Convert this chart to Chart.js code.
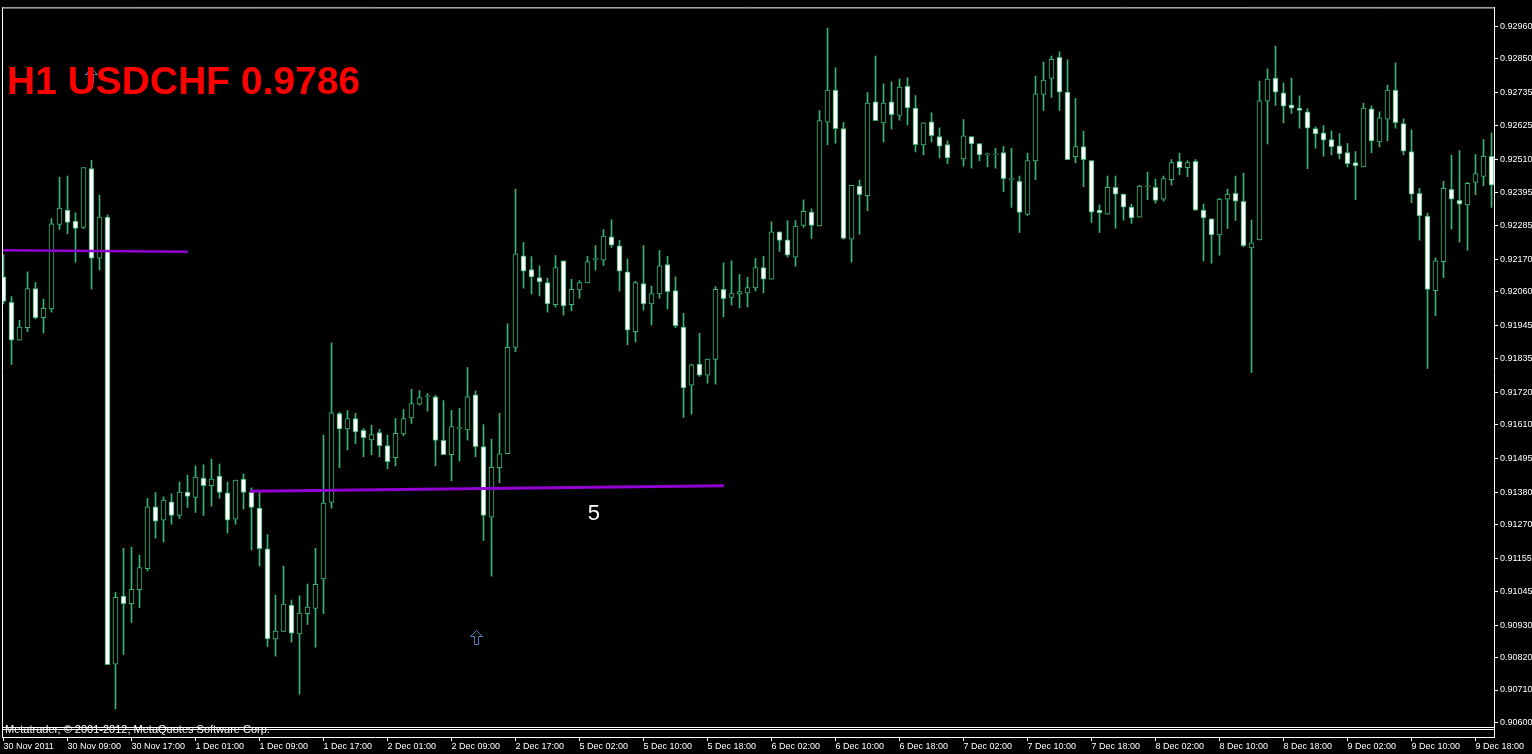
<!DOCTYPE html>
<html><head><meta charset="utf-8">
<script src="https://cdn.jsdelivr.net/npm/chart.js@4.4.1/dist/chart.umd.min.js"></script>
<style>html,body{margin:0;padding:0;background:#000;overflow:hidden}#wrap{width:1532px;height:754px;position:relative}</style>
</head><body><div id="wrap"><canvas id="c" width="1532" height="754"></canvas></div>
<script>
// ---- DATA (H1 USDCHF, bar index 0..186) ----
const opens = [
0.92111,0.92024,0.91896,0.91938,0.92071,0.91972,0.92002,0.92288,0.92337,0.92300,
0.92278,0.92478,0.92174,0.92313,0.90798,0.91028,0.91003,0.91050,0.91121,0.91331,
0.91286,0.91348,0.91302,0.91381,0.91363,0.91428,0.91403,0.91435,0.91378,0.91289,
0.91425,0.91381,0.91327,0.91189,0.90883,0.90909,0.90998,0.90900,0.90969,0.90987,
0.91087,0.91346,0.91647,0.91595,0.91630,0.91590,0.91558,0.91583,0.91539,0.91498,
0.91578,0.91632,0.91679,0.91704,0.91704,0.91556,0.91508,0.91597,0.91592,0.91711,
0.91535,0.91296,0.91464,0.91511,0.91871,0.92182,0.92135,0.92108,0.92091,0.92016,
0.92165,0.92016,0.92066,0.92090,0.92169,0.92167,0.92246,0.92216,0.92128,0.91925,
0.92088,0.92019,0.92053,0.92152,0.92064,0.91940,0.91743,0.91815,0.91777,0.91831,
0.92068,0.92041,0.92053,0.92056,0.92073,0.92142,0.92103,0.92263,0.92236,0.92177,
0.92285,0.92330,0.92283,0.92635,0.92744,0.92613,0.92238,0.92418,0.92386,0.92704,
0.92632,0.92704,0.92658,0.92757,0.92683,0.92558,0.92636,0.92586,0.92559,null,
0.92510,0.92586,0.92562,0.92524,0.92524,0.92532,0.92440,0.92434,0.92322,0.92504,
0.92729,0.92783,0.92855,0.92737,0.92518,0.92552,0.92505,0.92337,0.92323,0.92414,
0.92391,0.92347,0.92313,0.92416,0.92414,0.92374,0.92440,0.92502,0.92481,0.92502,
0.92337,0.92307,0.92253,0.92374,0.92394,0.92367,0.92209,0.92236,0.92706,0.92784,
0.92734,0.92694,0.92683,0.92670,0.92613,0.92599,0.92576,0.92555,0.92532,0.92498,
0.92483,0.92680,0.92568,0.92645,0.92744,0.92630,0.92535,0.92394,0.92317,0.92064,
0.92162,0.92407,0.92370,0.92354,0.92431,0.92451,0.92519];
const highs = [
0.92186,0.92044,0.91963,0.92128,0.92091,0.92035,0.92308,0.92449,0.92452,0.92328,
0.92481,0.92506,0.92388,0.92321,0.91041,0.91190,0.91194,0.91167,0.91359,0.91379,
0.91365,0.91375,0.91415,0.91439,0.91470,0.91473,0.91493,0.91476,0.91415,0.91422,
0.91443,0.91395,0.91379,0.91237,0.91032,0.91130,0.91015,0.91029,0.91069,0.91190,
0.91574,0.91887,0.91651,0.91657,0.91648,0.91596,0.91608,0.91594,0.91574,0.91630,
0.91661,0.91729,0.91725,0.91715,0.91709,0.91691,0.91658,0.91665,0.91803,0.91724,
0.91610,0.91561,0.91648,0.91951,0.92408,0.92227,0.92179,0.92148,0.92106,0.92183,
0.92165,0.92102,0.92098,0.92180,0.92217,0.92271,0.92304,0.92234,0.92172,0.92095,
0.92217,0.92079,0.92200,0.92180,0.92111,0.91987,0.91815,0.91919,0.91832,0.92078,
0.92158,0.92165,0.92119,0.92109,0.92173,0.92180,0.92297,0.92263,0.92301,0.92301,
0.92372,0.92341,0.92674,0.92954,0.92819,0.92634,0.92421,0.92439,0.92735,0.92859,
0.92765,0.92772,0.92782,0.92785,0.92725,0.92633,0.92667,0.92616,0.92572,null,
0.92644,0.92586,0.92562,0.92530,0.92546,0.92553,0.92546,0.92452,0.92530,0.92791,
0.92839,0.92859,0.92873,0.92846,0.92715,0.92604,0.92505,0.92355,0.92452,0.92452,
0.92391,0.92357,0.92421,0.92466,0.92442,0.92452,0.92508,0.92530,0.92505,0.92508,
0.92357,0.92307,0.92377,0.92408,0.92452,0.92462,0.92303,0.92774,0.92816,0.92893,
0.92768,0.92784,0.92724,0.92680,0.92619,0.92623,0.92606,0.92596,0.92562,0.92535,
0.92700,0.92690,0.92670,0.92761,0.92836,0.92646,0.92609,0.92411,0.92327,0.92175,
0.92434,0.92523,0.92539,0.92431,0.92525,0.92576,0.92599];
const lows = [
0.92019,0.91814,0.91896,0.91925,0.91968,0.91920,0.91991,0.92271,0.92257,0.92160,
0.92274,0.92069,0.92134,0.90796,0.90646,0.90831,0.90939,0.90989,0.91114,0.91225,
0.91212,0.91272,0.91292,0.91329,0.91312,0.91302,0.91333,0.91360,0.91242,0.91272,
0.91323,0.91185,0.91131,0.90858,0.90825,0.90909,0.90872,0.90696,0.90932,0.90855,
0.90969,0.91326,0.91464,0.91524,0.91545,0.91500,0.91507,0.91500,0.91460,0.91470,
0.91571,0.91614,0.91676,0.91655,0.91470,0.91508,0.91419,0.91486,0.91557,0.91500,
0.91217,0.91096,0.91412,0.91511,0.91857,0.92072,0.92053,0.92046,0.91991,0.92008,
0.91981,0.91995,0.92038,0.92090,0.92133,0.92149,0.92210,0.92062,0.91880,0.91890,
0.91998,0.91947,0.92038,0.92001,0.91938,0.91634,0.91645,0.91773,0.91750,0.91747,
0.91975,0.92015,0.92005,0.92009,0.92063,0.92056,0.92103,0.92197,0.92177,0.92147,
0.92278,0.92241,0.92283,0.92558,0.92564,0.92238,0.92160,0.92255,0.92335,0.92640,
0.92568,0.92611,0.92642,0.92625,0.92534,0.92524,0.92568,0.92514,0.92494,null,
0.92486,0.92479,0.92504,0.92483,0.92479,0.92399,0.92346,0.92261,0.92319,0.92440,
0.92675,0.92719,0.92675,0.92508,0.92497,0.92416,0.92295,0.92261,0.92323,0.92276,
0.92303,0.92292,0.92313,0.92372,0.92360,0.92367,0.92421,0.92457,0.92450,0.92337,
0.92164,0.92157,0.92184,0.92275,0.92302,0.92212,0.91787,0.92236,0.92561,0.92692,
0.92632,0.92665,0.92615,0.92477,0.92547,0.92520,0.92524,0.92510,0.92483,0.92372,
0.92483,0.92531,0.92551,0.92571,0.92615,0.92524,0.92362,0.92235,0.91800,0.91979,
0.92108,0.92272,0.92228,0.92201,0.92389,0.92420,0.92346];
const closes = [
0.92027,0.91896,0.91940,0.92071,0.91972,0.92004,0.92290,0.92344,0.92295,0.92275,
0.92481,0.92174,0.92313,0.90796,0.91024,0.91003,0.91051,0.91125,0.91331,0.91282,
0.91354,0.91302,0.91381,0.91366,0.91432,0.91403,0.91425,0.91380,0.91286,0.91422,
0.91380,0.91329,0.91189,0.90883,0.90910,0.91001,0.90903,0.90971,0.90991,0.91068,
0.91344,0.91650,0.91595,0.91630,0.91585,0.91565,0.91576,0.91538,0.91484,0.91580,
0.91630,0.91681,0.91701,0.91704,0.91556,0.91508,0.91603,0.91597,0.91704,0.91535,
0.91302,0.91465,0.91511,0.91872,0.92189,0.92130,0.92110,0.92093,0.92019,0.92142,
0.92012,0.92068,0.92091,0.92162,0.92169,0.92249,0.92218,0.92130,0.91930,0.92091,
0.92019,0.92054,0.92148,0.92060,0.91945,0.91734,0.91812,0.91777,0.91832,0.92068,
0.92037,0.92054,0.92061,0.92074,0.92142,0.92103,0.92263,0.92234,0.92184,0.92283,
0.92333,0.92285,0.92640,0.92744,0.92613,0.92241,0.92421,0.92389,0.92700,0.92640,
0.92700,0.92660,0.92754,0.92683,0.92559,0.92633,0.92589,0.92554,0.92514,null,
0.92589,0.92561,0.92524,0.92524,0.92524,0.92443,0.92440,0.92329,0.92505,0.92731,
0.92778,0.92848,0.92737,0.92508,0.92552,0.92508,0.92330,0.92327,0.92414,0.92391,
0.92347,0.92310,0.92418,0.92416,0.92370,0.92444,0.92498,0.92481,0.92498,0.92337,
0.92310,0.92253,0.92374,0.92391,0.92367,0.92216,0.92226,0.92707,0.92781,0.92737,
0.92689,0.92682,0.92675,0.92615,0.92595,0.92574,0.92551,0.92527,0.92494,0.92487,
0.92683,0.92571,0.92650,0.92744,0.92633,0.92537,0.92391,0.92317,0.92068,0.92165,
0.92411,0.92374,0.92357,0.92428,0.92461,0.92519,0.92421];

const xLabelBars = [0,8,16,24,32,40,48,56,64,72,80,88,96,104,112,120,128,136,144,152,160,168,176,184];
const xLabelTexts = ['30 Nov 2011','30 Nov 09:00','30 Nov 17:00','1 Dec 01:00','1 Dec 09:00','1 Dec 17:00',
  '2 Dec 01:00','2 Dec 09:00','2 Dec 17:00','5 Dec 02:00','5 Dec 10:00','5 Dec 18:00',
  '6 Dec 02:00','6 Dec 10:00','6 Dec 18:00','7 Dec 02:00','7 Dec 10:00','7 Dec 18:00',
  '8 Dec 02:00','8 Dec 10:00','8 Dec 18:00','9 Dec 02:00','9 Dec 10:00','9 Dec 18:00'];
const yTickValues = [0.92960,0.92850,0.92735,0.92625,0.92510,0.92395,0.92285,0.92170,0.92060,0.91945,0.91835,
  0.91720,0.91610,0.91495,0.91380,0.91270,0.91155,0.91045,0.90930,0.90820,0.90710,0.90600];

const trend1Bars = [-0.19, 23.06];
const trend1Prices = [0.92201, 0.92196];
const trend2Bars = [30.81, 90.06];
const trend2Prices = [0.91384, 0.91402];
const arrowBars = [59, 10.9];
const arrowPrices = [0.90888, 0.92795];
const labelBars = [73.8];
const labelPrices = [0.91308];
const labelTexts = ['5'];
const titleText = 'H1 USDCHF 0.9786';
const footerText = 'Metatrader, \u00A9 2001-2012, MetaQuotes Software Corp.';

// ---- BUILD ----
const GREEN = '#3CB371';
const wickData = [], bodyData = [], bodyFill = [];
for (let i = 0; i < opens.length; i++) {
  if (opens[i] == null) continue;
  wickData.push({x: i, y: [lows[i], highs[i]]});
  bodyData.push({x: i, y: [opens[i], closes[i]]});
  bodyFill.push(closes[i] < opens[i] ? '#ffffff' : '#000000');
}
const labelMap = {};
xLabelBars.forEach((b, k) => labelMap[b] = xLabelTexts[k]);

const FONT = "'Liberation Sans', Arial, sans-serif";

const decor = {
  id: 'decor',
  afterDraw(chart) {
    const ctx = chart.ctx, a = chart.chartArea;
    const xs = chart.scales.x, ys = chart.scales.y;
    ctx.save();
    // frame lines
    ctx.strokeStyle = '#ffffff'; ctx.lineWidth = 1;
    ctx.beginPath();
    ctx.moveTo(a.left + 0.5, a.top); ctx.lineTo(a.left + 0.5, a.bottom + 1);
    ctx.moveTo(a.left, a.top + 0.5); ctx.lineTo(a.right + 1, a.top + 0.5);
    ctx.moveTo(a.left, a.bottom - 9.5); ctx.lineTo(a.right, a.bottom - 9.5);
    ctx.moveTo(a.left, a.bottom - 7.5); ctx.lineTo(a.right, a.bottom - 7.5);
    ctx.stroke();
    // footer text
    ctx.fillStyle = '#ffffff';
    ctx.font = '11px ' + FONT;
    ctx.textBaseline = 'alphabetic'; ctx.textAlign = 'left';
    ctx.fillText(footerText, a.left + 3, a.bottom - 4);
    // arrows
    ctx.strokeStyle = '#4A7EBB'; ctx.lineWidth = 1;
    arrowBars.forEach((b, k) => {
      const cx = Math.round(xs.getPixelForValue(b)) + 0.5;
      const cy = Math.round(ys.getPixelForValue(arrowPrices[k])) + 0.5;
      ctx.beginPath();
      ctx.moveTo(cx, cy - 7);
      ctx.lineTo(cx + 6, cy - 1);
      ctx.lineTo(cx + 2, cy - 1);
      ctx.lineTo(cx + 2, cy + 7);
      ctx.lineTo(cx - 2, cy + 7);
      ctx.lineTo(cx - 2, cy - 1);
      ctx.lineTo(cx - 6, cy - 1);
      ctx.closePath();
      ctx.stroke();
    });
    // text labels
    ctx.fillStyle = '#ffffff';
    ctx.font = '22px ' + FONT;
    ctx.textAlign = 'center'; ctx.textBaseline = 'middle';
    labelBars.forEach((b, k) => {
      ctx.fillText(labelTexts[k], xs.getPixelForValue(b), ys.getPixelForValue(labelPrices[k]));
    });
    // title
    ctx.fillStyle = '#FF0000';
    ctx.font = 'bold 39px ' + FONT;
    ctx.textAlign = 'left'; ctx.textBaseline = 'alphabetic';
    ctx.fillText(titleText, a.left + 5, a.top + 87);
    ctx.restore();
  }
};

const xMin = -0.1875, xMax = 186.3125;
const yMax = 0.93024, yMin = 0.905507;

new Chart(document.getElementById('c'), {
  type: 'bar',
  data: {
    datasets: [
      {type: 'line', data: trend1Bars.map((b, k) => ({x: b, y: trend1Prices[k]})), borderColor: '#9400D3', borderWidth: 2.5, pointRadius: 0, order: 0},
      {type: 'line', data: trend2Bars.map((b, k) => ({x: b, y: trend2Prices[k]})), borderColor: '#9400D3', borderWidth: 3, pointRadius: 0, order: 0},
      {data: bodyData, backgroundColor: bodyFill, borderColor: GREEN, borderWidth: 1, borderSkipped: false, barThickness: 5, minBarLength: 1, grouped: false, order: 1},
      {data: wickData, backgroundColor: GREEN, borderWidth: 0, barThickness: 1, grouped: false, order: 2}
    ]
  },
  options: {
    responsive: false, animation: false, devicePixelRatio: 1, events: [],
    layout: {padding: {left: 2, top: 2, right: 0, bottom: 0}},
    plugins: {legend: {display: false}, tooltip: {enabled: false}},
    scales: {
      x: {
        type: 'linear', min: xMin, max: xMax, offset: false,
        grid: {display: true, drawOnChartArea: false, drawTicks: true, tickLength: 4, color: '#ffffff', offset: false},
        border: {display: true, color: '#ffffff'},
        ticks: {color: '#ffffff', font: {family: FONT, size: 9}, padding: 0, align: 'start', maxRotation: 0, autoSkip: false,
          callback: (v) => labelMap[v] !== undefined ? labelMap[v] : ''},
        afterBuildTicks: (s) => { s.ticks = xLabelBars.map(v => ({value: v})); },
        afterFit: (s) => { s.height = 17; }
      },
      y: {
        type: 'linear', position: 'right', min: yMin, max: yMax,
        grid: {display: true, drawOnChartArea: false, drawTicks: true, tickLength: 4, color: '#ffffff'},
        border: {display: true, color: '#ffffff'},
        ticks: {color: '#ffffff', font: {family: FONT, size: 9}, padding: 2, autoSkip: false,
          callback: (v) => Number(v).toFixed(5)},
        afterBuildTicks: (s) => { s.ticks = yTickValues.map(v => ({value: v})); },
        afterFit: (s) => { s.width = 38; }
      }
    }
  },
  plugins: [decor]
});
</script></body></html>
